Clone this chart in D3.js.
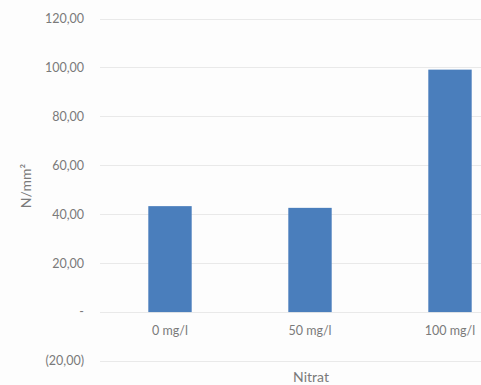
<!DOCTYPE html>
<html><head><meta charset="utf-8">
<script src="https://cdn.jsdelivr.net/npm/d3@7"></script>
<style>html,body{margin:0;padding:0;background:#fdfdfd;}svg{display:block;}</style>
</head><body>
<script>
const categories = ["0 mg/l", "50 mg/l", "100 mg/l"];
const values = [43.3, 42.6, 99.1];
const yTicks = [-20, 0, 20, 40, 60, 80, 100, 120];
const yTitle = "N/mm²";
const xTitle = "Nitrat";

const W = 481, H = 385;
const svg = d3.select("body").append("svg").attr("width", W).attr("height", H);
svg.append("rect").attr("width", W).attr("height", H).attr("fill", "#fdfdfd");

const y = d3.scaleLinear().domain([-20, 120]).range([361, 18.5]);
const x = d3.scaleBand().domain(categories).range([100, 520]).padding(0);

const fmt = v => v === 0 ? "-" : (v < 0 ? "(" + d3.format(".2f")(-v).replace(".", ",") + ")" : d3.format(".2f")(v).replace(".", ","));
const font = "Lato, 'Open Sans', sans-serif";
const txt = "#7a7a7a";

// gridlines
svg.append("g").selectAll("line").data(yTicks).join("line")
  .attr("x1", 100).attr("x2", W)
  .attr("y1", d => Math.round(y(d)) + 0.5).attr("y2", d => Math.round(y(d)) + 0.5)
  .attr("stroke", "#e9e9e9").attr("stroke-width", 1);

// y tick labels
svg.append("g").selectAll("text").data(yTicks).join("text")
  .attr("x", 84).attr("y", d => y(d)).attr("dy", "0.35em")
  .attr("text-anchor", "end").attr("font-family", font).attr("font-size", 12.5)
  .attr("fill", txt).text(fmt);

// bars
const bw = x.bandwidth() * 0.31;
svg.append("g").selectAll("rect").data(values).join("rect")
  .attr("x", (d, i) => x(categories[i]) + x.bandwidth() / 2 - bw / 2)
  .attr("width", bw)
  .attr("y", d => y(Math.max(0, d)))
  .attr("height", d => Math.abs(y(d) - y(0)))
  .attr("fill", "#4a7ebc");

// x labels
svg.append("g").selectAll("text").data(categories).join("text")
  .attr("x", d => x(d) + x.bandwidth() / 2).attr("y", 331).attr("dy", "0.35em")
  .attr("text-anchor", "middle").attr("font-family", font).attr("font-size", 12.5)
  .attr("fill", txt).text(d => d);

// axis titles
svg.append("text").attr("x", 311).attr("y", 382)
  .attr("text-anchor", "middle").attr("font-family", font).attr("font-size", 14)
  .attr("fill", txt).text(xTitle);
svg.append("text").attr("transform", "translate(26,186) rotate(-90)").attr("dy", "0.35em")
  .attr("text-anchor", "middle").attr("font-family", font).attr("font-size", 14)
  .attr("fill", txt).text(yTitle);
</script>
</body></html>
